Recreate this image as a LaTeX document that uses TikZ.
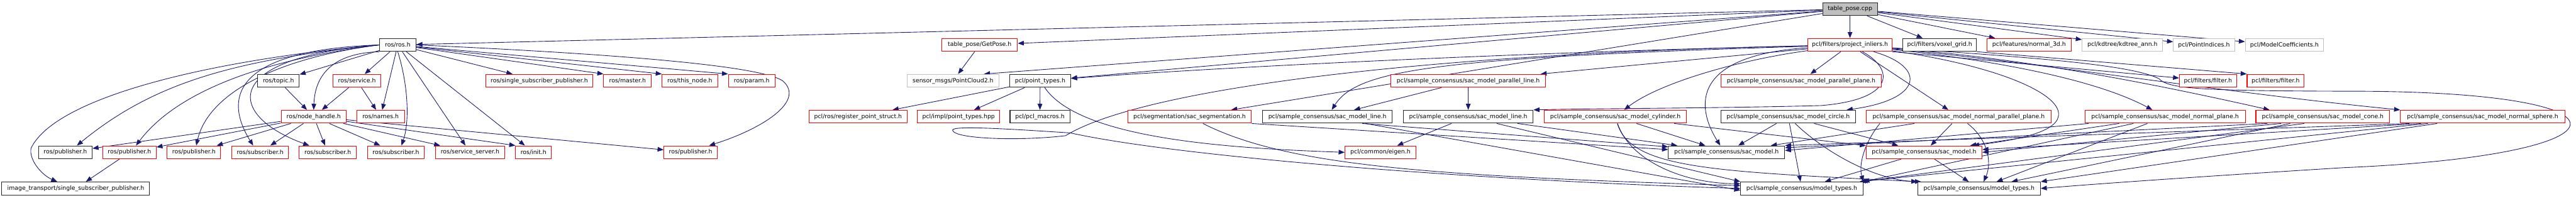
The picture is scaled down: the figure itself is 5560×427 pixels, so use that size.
\documentclass[tikz,border=0pt]{standalone}
\usepackage{fontspec}
\newfontfamily\dvs{DejaVu Sans}
\usetikzlibrary{arrows.meta,calc}
\pgfdeclarelayer{bg}
\pgfsetlayers{bg,main}
\definecolor{navy}{HTML}{191970}
\definecolor{gborder}{HTML}{BFBFBF}
\definecolor{gfill}{HTML}{BFBFBF}
\definecolor{rborder}{HTML}{FF0000}
\begin{document}
\begin{tikzpicture}[x=1pt,y=-1pt,
  nd/.style={draw, line width=1.4pt, minimum height=28pt, inner sep=0pt, fill=white,
             font={\dvs\fontsize{12.7pt}{15pt}\selectfont}},
  rb/.style={nd, draw=rborder},
  bb/.style={nd, draw=black!85},
  gb/.style={nd, draw=gborder},
  e/.style={draw=navy, line width=1.2pt, -{Triangle[length=13pt,width=10pt]}}
]
\useasboundingbox (0,0) rectangle (5560,427);

% row 0
\node[bb, fill=gfill, minimum width=118pt] (cpp) at (3993,19.5) {table\_pose.cpp};
% row 1
\node[bb, minimum width=79pt]  (rosh)     at (858.5,97)  {ros/ros.h};
\node[rb, minimum width=163pt] (getpose)  at (2114.5,97) {table\_pose/GetPose.h};
\node[rb, minimum width=182pt] (projinl)  at (3993,97)   {pcl/filters/project\_inliers.h};
\node[bb, minimum width=159pt] (voxel)    at (4186.5,97) {pcl/filters/voxel\_grid.h};
\node[rb, minimum width=181pt] (normal3d) at (4379.5,97) {pcl/features/normal\_3d.h};
\node[gb, minimum width=174pt] (kdtree)   at (4581,97)   {pcl/kdtree/kdtree\_ann.h};
\node[gb, minimum width=132pt] (pidx)     at (4757,97)   {pcl/PointIndices.h};
\node[gb, minimum width=169pt] (mcoef)    at (4930.5,97) {pcl/ModelCoefficients.h};
% row 2
\node[bb, minimum width=90pt]  (topic)    at (601,174.5)    {ros/topic.h};
\node[rb, minimum width=103pt] (service)  at (770.5,174.5)  {ros/service.h};
\node[rb, minimum width=232pt] (ssp)      at (1164,174.5)   {ros/single\_subscriber\_publisher.h};
\node[rb, minimum width=103pt] (master)   at (1354.5,174.5) {ros/master.h};
\node[rb, minimum width=120pt] (thisnode) at (1489,174.5)   {ros/this\_node.h};
\node[rb, minimum width=101pt] (param)    at (1622.5,174.5) {ros/param.h};
\node[gb, minimum width=198pt] (pc2)      at (2057,174.5)   {sensor\_msgs/PointCloud2.h};
\node[bb, minimum width=132pt] (ptypes)   at (2245,174.5)   {pcl/point\_types.h};
\node[rb, minimum width=334pt] (parline)  at (3169,174.5)   {pcl/sample\_consensus/sac\_model\_parallel\_line.h};
\node[rb, minimum width=347pt] (parplane) at (3887.5,174.5) {pcl/sample\_consensus/sac\_model\_parallel\_plane.h};
\node[rb, minimum width=123pt] (filter1)  at (4765.5,174.5) {pcl/filters/filter.h};
\node[rb, minimum width=123pt] (filter2)  at (4911.5,174.5) {pcl/filters/filter.h};
% row 3
\node[rb, minimum width=140pt] (nh)      at (677,252)    {ros/node\_handle.h};
\node[rb, minimum width=103pt] (names)   at (821.5,252)  {ros/names.h};
\node[rb, minimum width=212pt] (regps)   at (1852,252)   {pcl/ros/register\_point\_struct.h};
\node[rb, minimum width=178pt] (implpt)  at (2069,252)   {pcl/impl/point\_types.hpp};
\node[bb, minimum width=129pt] (macros)  at (2244.5,252) {pcl/pcl\_macros.h};
\node[rb, minimum width=267pt] (sacseg)  at (2567.5,252) {pcl/segmentation/sac\_segmentation.h};
\node[bb, minimum width=280pt] (line1)   at (2865,252)   {pcl/sample\_consensus/sac\_model\_line.h};
\node[bb, minimum width=280pt] (line2)   at (3169,252)   {pcl/sample\_consensus/sac\_model\_line.h};
\node[rb, minimum width=307pt] (cyl)     at (3486.5,252) {pcl/sample\_consensus/sac\_model\_cylinder.h};
\node[bb, minimum width=291pt] (circle)  at (3859.5,252) {pcl/sample\_consensus/sac\_model\_circle.h};
\node[rb, minimum width=399pt] (npp)     at (4227.5,252) {pcl/sample\_consensus/sac\_model\_normal\_parallel\_plane.h};
\node[rb, minimum width=346pt] (nplane)  at (4673,252)   {pcl/sample\_consensus/sac\_model\_normal\_plane.h};
\node[rb, minimum width=289pt] (cone)    at (5013.5,252) {pcl/sample\_consensus/sac\_model\_cone.h};
\node[rb, minimum width=355pt] (nsphere) at (5358.5,252) {pcl/sample\_consensus/sac\_model\_normal\_sphere.h};
% row 4
\node[bb, minimum width=116pt] (pub1)      at (141,329)    {ros/publisher.h};
\node[rb, minimum width=115pt] (pub2)      at (279.5,329)  {ros/publisher.h};
\node[rb, minimum width=115pt] (pub3)      at (418.5,329)  {ros/publisher.h};
\node[rb, minimum width=123pt] (sub1)      at (561.5,329)  {ros/subscriber.h};
\node[rb, minimum width=123pt] (sub2)      at (707.5,329)  {ros/subscriber.h};
\node[rb, minimum width=123pt] (sub3)      at (854.5,329)  {ros/subscriber.h};
\node[rb, minimum width=149pt] (srvserver) at (1014.5,329) {ros/service\_server.h};
\node[rb, minimum width=77pt]  (init)      at (1151.5,329) {ros/init.h};
\node[rb, minimum width=115pt] (pub4)      at (1490.5,329) {ros/publisher.h};
\node[rb, minimum width=153pt] (eigen)     at (2979.5,329) {pcl/common/eigen.h};
\node[bb, minimum width=251pt] (sacm1)     at (3726.5,329) {pcl/sample\_consensus/sac\_model.h};
\node[rb, minimum width=250pt] (sacm2)     at (4153,329)   {pcl/sample\_consensus/sac\_model.h};
% row 5
\node[bb, minimum width=319pt] (itssp) at (163.5,407)  {image\_transport/single\_subscriber\_publisher.h};
\node[bb, minimum width=264pt] (mt1)   at (3889,407)   {pcl/sample\_consensus/model\_types.h};
\node[bb, minimum width=265pt] (mt2)   at (4271.5,407) {pcl/sample\_consensus/model\_types.h};

\begin{pgfonlayer}{bg}
% from table_pose.cpp
\draw[e] (cpp) -- (rosh);
\draw[e] (cpp) -- (getpose);
\draw[e] (cpp) -- ([xshift=-33pt]pc2.north east);
\draw[e] (cpp) -- (ptypes);
\draw[e] (cpp) -- (sacseg);
\draw[e] (cpp) -- (projinl);
\draw[e] (cpp) -- (voxel);
\draw[e] (cpp) -- (normal3d);
\draw[e] (cpp) -- (kdtree);
\draw[e] (cpp) -- (pidx);
\draw[e] (cpp) -- (mcoef);

% from ros/ros.h
\draw[e] (rosh) -- (topic);
\draw[e] (rosh) -- (service);
\draw[e] (rosh) -- (names);
\draw[e] (rosh.south west) .. controls (720,115) and (680,160) .. (nh.north);
\draw[e] (rosh.west) .. controls (460,110) and (500,240) .. ([xshift=-15pt]sub1.north);
\draw[e] (rosh.west) .. controls (470,125) and (490,250) .. ([xshift=-40pt]sub2.north);
\draw[e] (rosh.south) .. controls (880,180) and (885,260) .. ([xshift=12pt]sub3.north);
\draw[e] (rosh.west) .. controls (500,130) and (330,180) .. ([xshift=25pt]pub1.north);
\draw[e] (rosh.west) .. controls (560,130) and (380,200) .. ([xshift=14pt]pub2.north);
\draw[e] (rosh.west) .. controls (600,125) and (450,200) .. ([xshift=5pt]pub3.north);
\draw[e] (rosh.west) .. controls (450,130) and (120,210) .. (67,320)
         .. controls (62,345) and (90,378) .. ([xshift=-40pt]itssp.north);
\draw[e] (rosh) -- (ssp);
\draw[e] (rosh) -- (master.north west);
\draw[e] (rosh) -- (thisnode.north west);
\draw[e] (rosh) -- (param.north west);
\draw[e] (rosh) -- (srvserver);
\draw[e] (rosh) -- (init);
\draw[e] (rosh.east) .. controls (1300,115) and (1640,140) .. (1690,175)
         .. controls (1740,220) and (1640,280) .. ([xshift=40pt]pub4.north);

% ros internals
\draw[e] (topic) -- (nh);
\draw[e] (service) -- (nh);
\draw[e] (service) -- (names);
\draw[e] (nh) -- (pub1);
\draw[e] (nh) -- (pub2);
\draw[e] (nh) -- (pub3);
\draw[e] (nh) -- (sub1);
\draw[e] (nh) -- (sub2);
\draw[e] (nh) -- (sub3);
\draw[e] (nh) -- (srvserver);
\draw[e] (nh) -- (init.north west);
\draw[e] (nh) -- (pub4);
\draw[e] (pub2) -- (itssp);

% table_pose / point types
\draw[e] (getpose) -- (pc2);
\draw[e] (ptypes) -- (regps);
\draw[e] (ptypes) -- (implpt);
\draw[e] (ptypes) -- (macros);
\draw[e] (ptypes) .. controls (2330,300) and (2650,320) .. (eigen.west);

% from project_inliers.h
\draw[e] (projinl) .. controls (3400,110) and (2700,140) .. (ptypes);
\draw[e] (projinl) -- (parplane);
\draw[e] (projinl) -- (parline);
\draw[e] (projinl) .. controls (3100,125) and (2930,150) .. (line1);
\draw[e] (projinl) .. controls (4090,150) and (4090,215) .. (3930,228)
         .. controls (3700,234) and (3450,234) .. (line2.north east);
\draw[e] (projinl) .. controls (4160,145) and (4150,215) .. ([xshift=-20pt]circle.north east);
\draw[e] (projinl) .. controls (3750,130) and (3580,180) .. (cyl);
\draw[e] (projinl) -- (npp);
\draw[e] (projinl) .. controls (4300,130) and (4520,170) .. (nplane);
\draw[e] (projinl) .. controls (4350,125) and (4600,170) .. ([xshift=-115pt]cone.north);
\draw[e] (projinl) .. controls (4400,135) and (4800,200) .. (nsphere.north west);
\draw[e] (projinl.south east) -- ($(filter1.west)+(0,-6)$);
\draw[e] (voxel.south east) -- (filter2.north west);
\draw[e] (projinl) .. controls (3650,120) and (3660,230) .. ([xshift=-13.5pt]sacm1.north);
\draw[e] (projinl) .. controls (4300,140) and (4450,200) .. (4443,250)
         .. controls (4438,290) and (4330,305) .. ([xshift=-20pt]sacm2.north east);
\draw[e] (projinl) .. controls (4400,125) and (4600,140) .. (4660,170)
         .. controls (4680,192) and (4750,196) .. (5060,197)
         .. controls (5720,195) and (5700,335) .. (5060,362)
         .. controls (4800,378) and (4550,395) .. (mt2.east);
\draw[e] (projinl) .. controls (3000,118) and (2450,200) .. (2300,293)
         .. controls (2200,305) and (2058,300) .. (2056,281)
         .. controls (2055,270) and (2200,280) .. (2310,287)
         .. controls (2550,340) and (3200,390) .. (mt1.west);

% sample consensus models
\draw[e] (sacseg.south east) -- ($(sacm1.west)+(0,-6)$);
\draw[e] (sacseg) .. controls (2780,360) and (3100,380) .. ($(mt1.west)+(0,-6)$);
\draw[e] ([xshift=75pt]line1.south) -- ($(sacm1.west)+(0,-12)$);
\draw[e] (line1) -- ($(mt1.west)+(0,4)$);
\draw[e] (line2) -- (sacm1);
\draw[e] (line2) -- (mt1.north west);
\draw[e] (line2) -- (eigen);
\draw[e] (parline) -- (line1);
\draw[e] (parline) -- (line2);

\draw[e] (cyl) -- (sacm1);
\draw[e] (cyl) -- (sacm2);
\draw[e] (cyl) .. controls (3515,340) and (3620,395) .. ($(mt1.west)+(0,-10)$);
\draw[e] (cyl) .. controls (3520,365) and (3700,370) .. (mt2.north west);

\draw[e] (circle) -- (sacm1);
\draw[e] (circle) -- (sacm2);
\draw[e] (circle) -- (mt1);
\draw[e] (circle) .. controls (3940,330) and (4050,390) .. ([xshift=8pt]mt2.north west);

\draw[e] (npp) -- (sacm1);
\draw[e] (npp) -- (sacm2);
\draw[e] (npp) .. controls (4290,300) and (4300,350) .. ([xshift=10pt]mt2.north);
\draw[e] ([xshift=-170pt]npp.south) .. controls (4030,300) and (4010,350) .. (mt1.north east);

\draw[e] (nplane) -- (sacm2);
\draw[e] (nplane) -- ($(sacm1.east)+(0,-4)$);
\draw[e] (nplane) -- (mt2);
\draw[e] (nplane) -- (mt1.north east);

\draw[e] ([xshift=-120pt]cone.south) -- ($(sacm1.east)+(0,-10)$);
\draw[e] ([xshift=-90pt]cone.south) -- (sacm2.east);
\draw[e] (cone) -- (mt2);
\draw[e] ([xshift=-40pt]cone.south) -- ($(mt1.north east)+(-4,0)$);

\draw[e] ([xshift=20pt]nsphere.south west) -- (sacm1.north east);
\draw[e] ([xshift=45pt]nsphere.south west) -- ($(sacm2.east)+(0,-6)$);
\draw[e] ([xshift=60pt]nsphere.south west) -- ($(mt1.north east)+(-8,0)$);
\draw[e] ([xshift=80pt]nsphere.south west) -- (mt2.north east);

\draw[e] (sacm2) -- (mt1);
\draw[e] (sacm2) -- (mt2);
\end{pgfonlayer}
\end{tikzpicture}
\end{document}
